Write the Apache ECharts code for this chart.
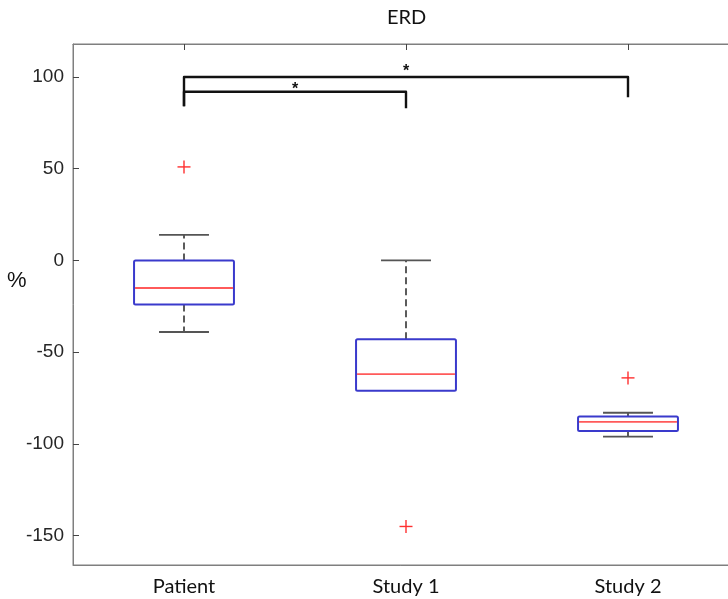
<!DOCTYPE html>
<html>
<head>
<meta charset="utf-8">
<script src="https://cdn.jsdelivr.net/npm/echarts@6/dist/echarts.min.js"></script>
<style>html,body{margin:0;padding:0;background:#fff;}#c{width:728px;height:599px;}</style>
</head>
<body>
<div id="c"></div>
<script>
const categories = ['Patient', 'Study 1', 'Study 2'];
const lowerWhisker = [-39, -71, -96];
const q1 = [-24, -71, -93];
const median = [-15, -62, -88];
const q3 = [0, -43, -85];
const upperWhisker = [14, 0, -83];
const outlierCat = [0, 1, 2];
const outlierVal = [51, -145, -64];
const yTicks = [-150, -100, -50, 0, 50, 100];
// significance brackets: from x, to x, bar level, left drop end, right drop end
const bracketFrom = [1, 1];
const bracketTo = [2, 3];
const bracketLevel = [92, 100];
const bracketLeftEnd = [84, 84];
const bracketRightEnd = [83, 89];
const starX = [1.5, 2];
const starY = [93, 103];

const boxData = categories.map((c, i) => [i, lowerWhisker[i], q1[i], median[i], q3[i], upperWhisker[i]]);
const outlierData = outlierCat.map((c, i) => [c, outlierVal[i]]);
const bracketData = bracketFrom.map((f, i) => [f, bracketTo[i], bracketLevel[i], bracketLeftEnd[i], bracketRightEnd[i]]);
const starData = starX.map((x, i) => [x, starY[i]]);

const chart = echarts.init(document.getElementById('c'));
const axisGrey = '#7f7f7f';
chart.setOption({
  animation: false,
  graphic: [
    {type: 'text', left: 387, top: 8, style: {text: 'ERD', fontSize: 20, fontFamily: 'Lato', fill: '#111'}},
    {type: 'text', left: 7, top: 270, style: {text: '%', fontSize: 22, fontFamily: 'Liberation Sans', fill: '#111'}}
  ],
  grid: {left: 73, top: 44, right: -11, bottom: 34, outerBoundsMode: 'none', containLabel: false, show: true, borderColor: axisGrey, borderWidth: 1},
  xAxis: [
    {type: 'category', data: categories, boundaryGap: true,
     axisLine: {onZero: false, lineStyle: {color: axisGrey}},
     axisTick: {inside: true, alignWithLabel: true, length: 6, lineStyle: {color: '#444'}},
     axisLabel: {fontFamily: 'Lato', fontSize: 20, color: '#111', margin: 12}},
    {type: 'value', position: 'top', min: 0.5, max: 3.5,
     axisLine: {show: true, onZero: false, lineStyle: {color: axisGrey}},
     axisTick: {show: true, inside: true, length: 6, customValues: [1, 2, 3], lineStyle: {color: '#444'}},
     axisLabel: {show: false}, splitLine: {show: false}}
  ],
  yAxis: [
    {type: 'value', min: -166, max: 118,
     axisLine: {show: true, onZero: false, lineStyle: {color: axisGrey}},
     axisTick: {show: true, inside: true, length: 6, customValues: yTicks, lineStyle: {color: '#444'}},
     axisLabel: {customValues: yTicks, fontFamily: 'Liberation Sans', fontSize: 19, color: '#262626', margin: 9},
     splitLine: {show: false}}
  ],
  series: [
    {
      type: 'custom', xAxisIndex: 0, yAxisIndex: 0, data: boxData, clip: false,
      renderItem: function (params, api) {
        const x = api.value(0);
        const bw = api.size([1, 0])[0] * 0.45;
        const pLw = api.coord([x, api.value(1)]);
        const pQ1 = api.coord([x, api.value(2)]);
        const pMed = api.coord([x, api.value(3)]);
        const pQ3 = api.coord([x, api.value(4)]);
        const pUw = api.coord([x, api.value(5)]);
        const cx = pMed[0];
        const dash = {stroke: '#333', lineWidth: 1.6, lineDash: [7, 4]};
        const cap = {stroke: '#555', lineWidth: 1.8};
        const kids = [
          {type: 'line', shape: {x1: cx, y1: pQ3[1], x2: cx, y2: pUw[1]}, style: dash},
          {type: 'line', shape: {x1: cx, y1: pQ1[1], x2: cx, y2: pLw[1]}, style: dash}
        ];
        if (api.value(5) !== api.value(4)) kids.push({type: 'line', shape: {x1: cx - bw / 4, y1: pUw[1], x2: cx + bw / 4, y2: pUw[1]}, style: cap});
        if (api.value(1) !== api.value(2)) kids.push({type: 'line', shape: {x1: cx - bw / 4, y1: pLw[1], x2: cx + bw / 4, y2: pLw[1]}, style: cap});
        kids.push(
          {type: 'rect', shape: {x: cx - bw / 2, y: pQ3[1], width: bw, height: pQ1[1] - pQ3[1], r: 1.5},
           style: {fill: 'none', stroke: '#3a3acc', lineWidth: 2}},
          {type: 'line', shape: {x1: cx - bw / 2 + 1, y1: pMed[1], x2: cx + bw / 2 - 1, y2: pMed[1]},
           style: {stroke: '#ff5a5a', lineWidth: 1.8}}
        );
        return {type: 'group', children: kids};
      }
    },
    {
      type: 'custom', xAxisIndex: 0, yAxisIndex: 0, data: outlierData,
      renderItem: function (params, api) {
        const p = api.coord([api.value(0), api.value(1)]);
        const h = 6.5;
        const st = {stroke: '#ff3030', lineWidth: 1.4};
        return {type: 'group', children: [
          {type: 'line', shape: {x1: p[0] - h, y1: p[1], x2: p[0] + h, y2: p[1]}, style: st},
          {type: 'line', shape: {x1: p[0], y1: p[1] - h, x2: p[0], y2: p[1] + h}, style: st}
        ]};
      }
    },
    {
      type: 'custom', xAxisIndex: 1, yAxisIndex: 0, data: bracketData,
      renderItem: function (params, api) {
        const a = api.coord([api.value(0), api.value(3)]);
        const b = api.coord([api.value(0), api.value(2)]);
        const c = api.coord([api.value(1), api.value(2)]);
        const d = api.coord([api.value(1), api.value(4)]);
        return {type: 'polyline', shape: {points: [a, b, c, d]},
          style: {stroke: '#111', lineWidth: 2.4, fill: 'none', lineJoin: 'round'}};
      }
    },
    {
      type: 'custom', xAxisIndex: 1, yAxisIndex: 0, data: starData,
      renderItem: function (params, api) {
        const p = api.coord([api.value(0), api.value(1)]);
        return {type: 'text', x: p[0], y: p[1],
          style: {text: '*', fontSize: 16, fontWeight: 'bold', fontFamily: 'Liberation Sans', fill: '#111', align: 'center', verticalAlign: 'middle'}};
      }
    }
  ]
});
</script>
</body>
</html>
